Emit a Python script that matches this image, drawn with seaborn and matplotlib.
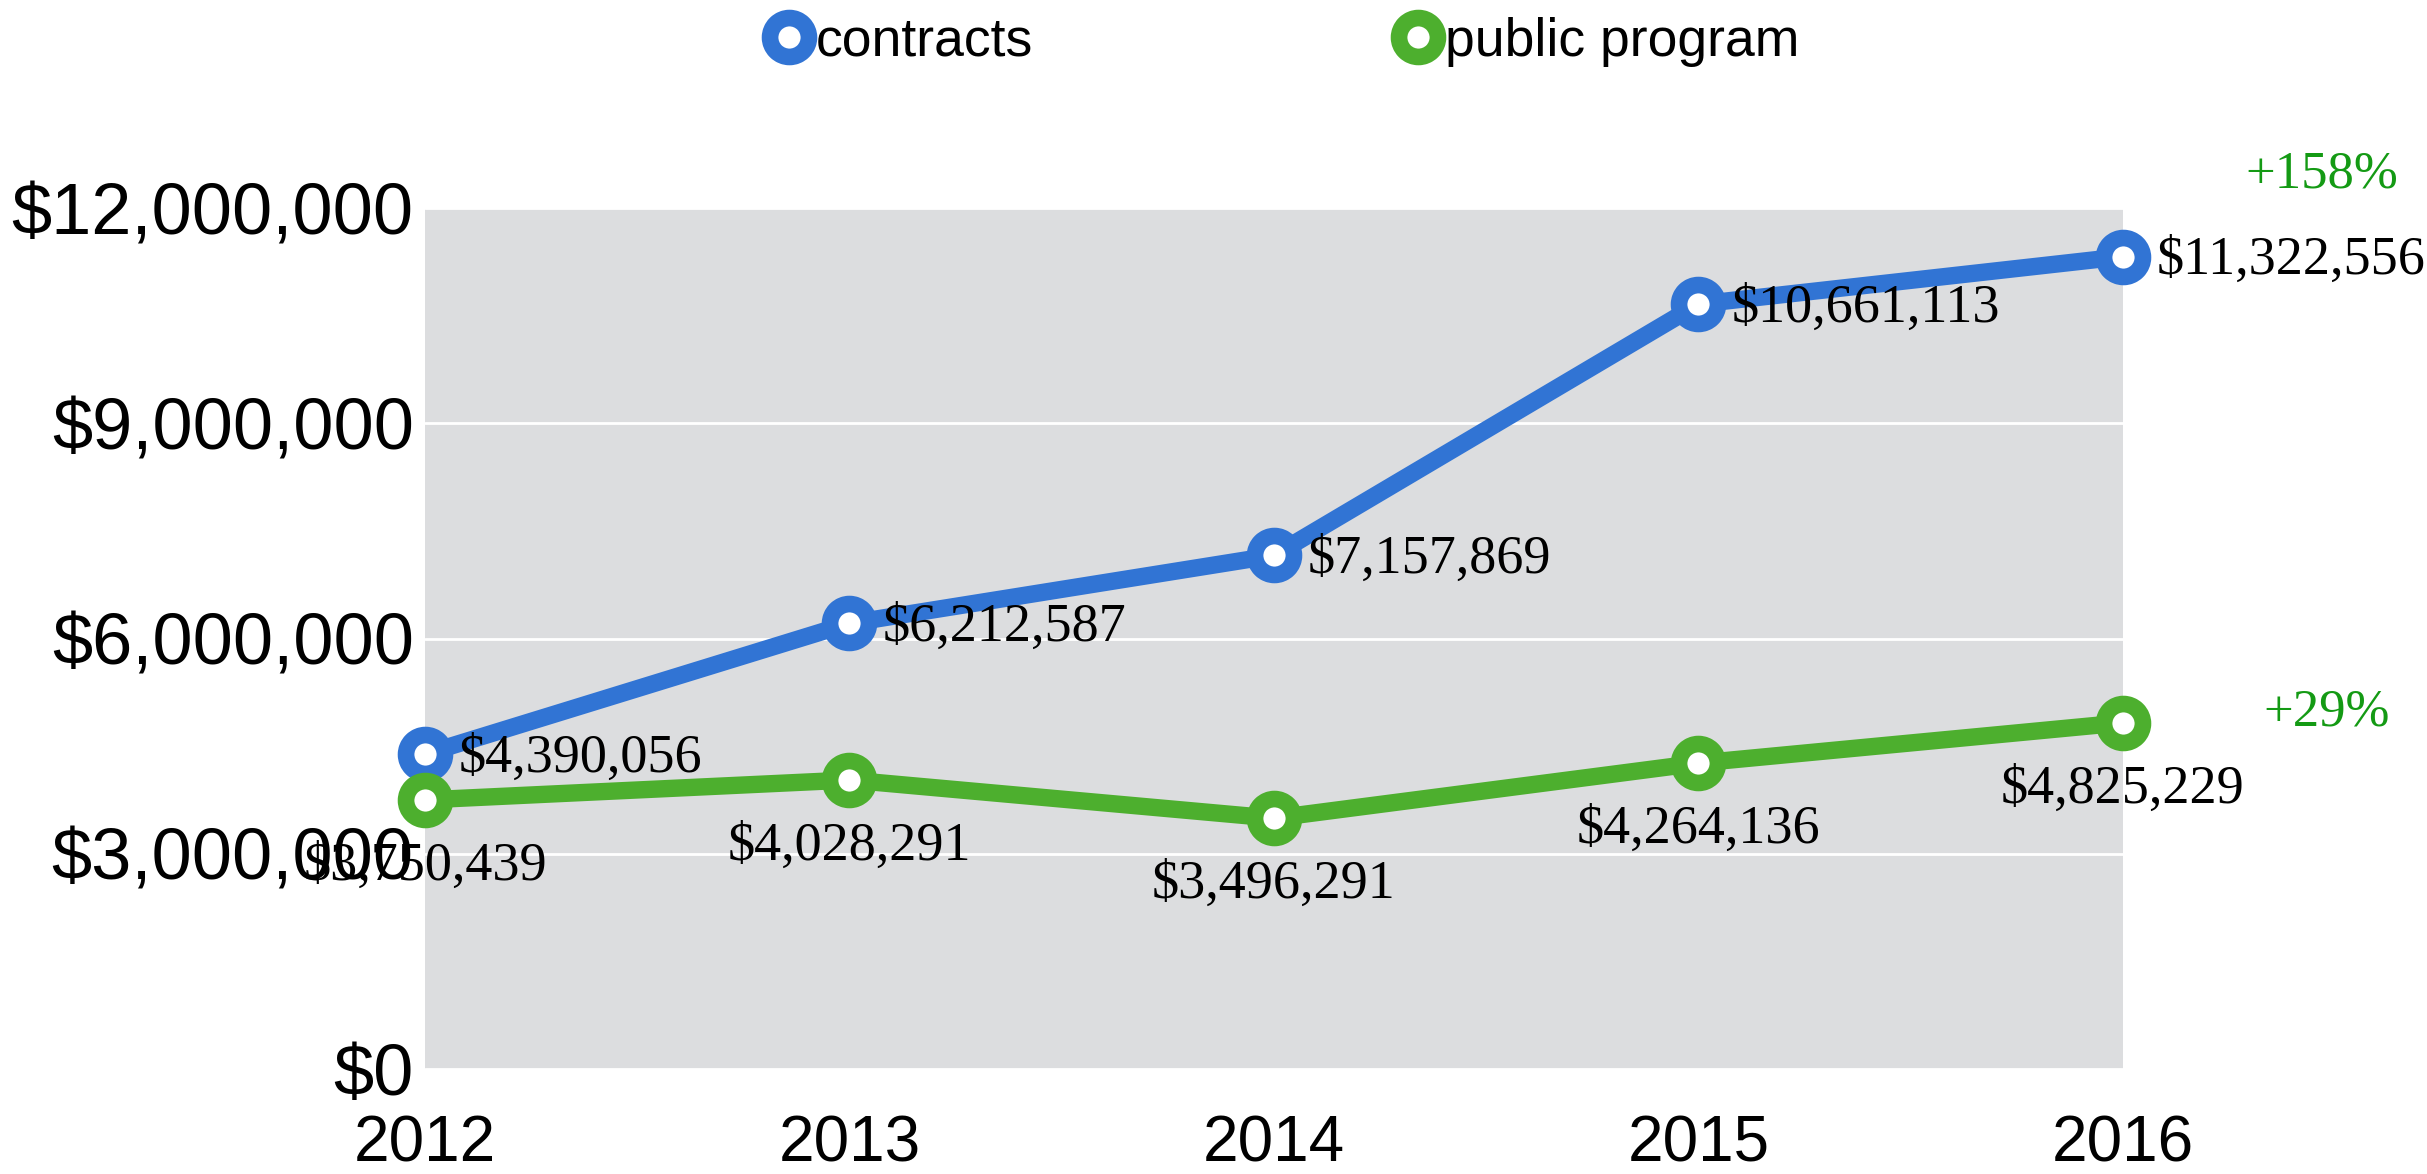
import matplotlib
matplotlib.use("Agg")
import matplotlib.pyplot as plt
import pandas as pd
import seaborn as sns
from matplotlib.ticker import FuncFormatter

years = [2012, 2013, 2014, 2015, 2016]
contracts = [4390056, 6212587, 7157869, 10661113, 11322556]
public_program = [3750439, 4028291, 3496291, 4264136, 4825229]
growth_labels = ["+158%", "+29%"]
y_ticks = [0, 3000000, 6000000, 9000000, 12000000]

blue = "#3174D4"
green = "#4DAF2E"
bg = "#DCDDDF"

sns.set_style("white")
plt.rcParams['font.family'] = ['Liberation Sans', 'DejaVu Sans']
plt.rcParams['text.color'] = 'black'
plt.rcParams['xtick.color'] = 'black'
plt.rcParams['ytick.color'] = 'black'

fig = plt.figure(figsize=(24.27, 11.74), dpi=100)
ax = fig.add_axes([0.1751, 0.0894, 0.6996, 0.7334])
ax.set_facecolor(bg)

df = pd.DataFrame({"year": years, "contracts": contracts, "public program": public_program})

for col, c in [("contracts", blue), ("public program", green)]:
    sns.lineplot(data=df, x="year", y=col, ax=ax, color=c, lw=12.5, marker="o",
                 markersize=28, markeredgewidth=12, markerfacecolor="white",
                 markeredgecolor=c, clip_on=False, label=col, legend=False, zorder=5)

ax.set_xlim(2012, 2016)
ax.set_ylim(0, 12000000)
ax.set_yticks(y_ticks)
ax.set_xticks(years)
ax.yaxis.set_major_formatter(FuncFormatter(lambda v, p: "${:,.0f}".format(v)))
ax.grid(axis="y", color="white", lw=2)
ax.grid(axis="x", visible=False)
for s in ax.spines.values():
    s.set_visible(False)
ax.tick_params(axis="y", labelsize=52, pad=8, length=0)
ax.tick_params(axis="x", labelsize=46, pad=33, length=0)
ax.set_xlabel("")
ax.set_ylabel("")

serif = ['Liberation Serif', 'DejaVu Serif']
for x, y in zip(years, contracts):
    ax.annotate("${:,}".format(y), (x, y), xytext=(24, -3), textcoords="offset points",
                ha="left", va="center", fontsize=39, family=serif, zorder=6,
                annotation_clip=False)
for x, y in zip(years, public_program):
    ax.annotate("${:,}".format(y), (x, y), xytext=(0, -48), textcoords="offset points",
                ha="center", va="center", fontsize=39, family=serif, zorder=6,
                annotation_clip=False)

fig.text(2322 / 2427, 1 - 174 / 1174, growth_labels[0], color="#149A14", fontsize=38,
         family=serif, ha="center", va="center")
fig.text(2327 / 2427, 1 - 712 / 1174, growth_labels[1], color="#149A14", fontsize=38,
         family=serif, ha="center", va="center")

handles, labels = ax.get_legend_handles_labels()
fig.legend(handles, labels, loc="center", bbox_to_anchor=(1286 / 2427, 1 - 42 / 1174),
           ncol=2, frameon=False, fontsize=38.5, handlelength=0.6, handletextpad=0.2,
           columnspacing=6.9, markerscale=1.0)

fig.savefig("out.png", dpi=100, facecolor="white")
